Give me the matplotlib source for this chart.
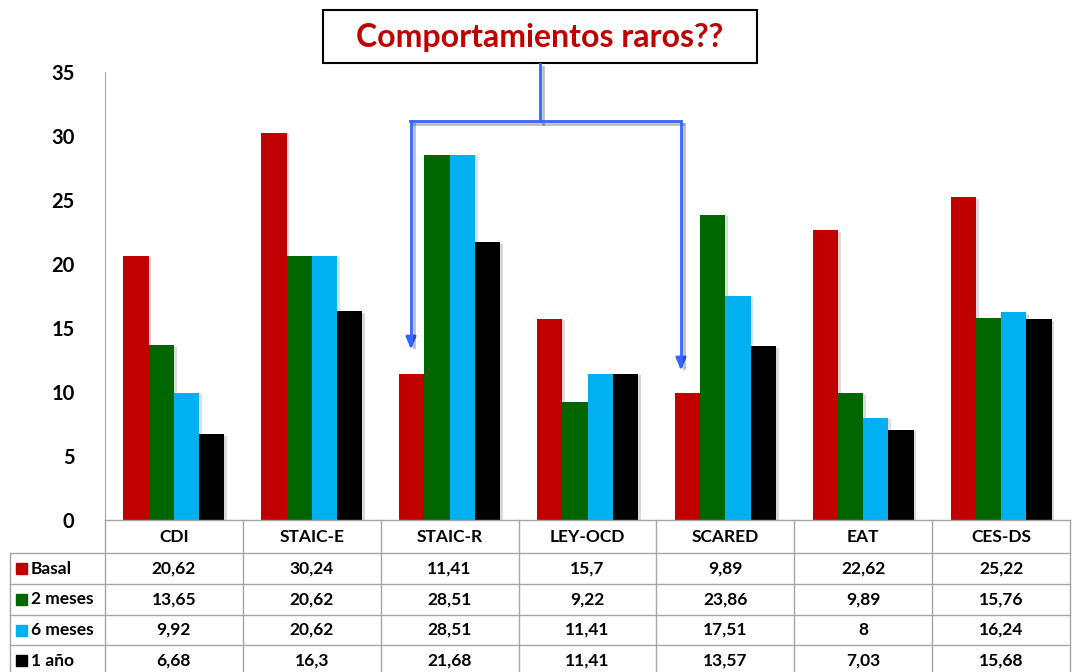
import matplotlib.pyplot as plt
import matplotlib.patheffects as pe
from matplotlib.patches import Rectangle
from matplotlib.transforms import blended_transform_factory
import numpy as np

plt.rcParams['font.family'] = ['Lato', 'DejaVu Sans']

categories = ['CDI', 'STAIC-E', 'STAIC-R', 'LEY-OCD', 'SCARED', 'EAT', 'CES-DS']
series_names = ['Basal', '2 meses', '6 meses', '1 año']
basal = [20.62, 30.24, 11.41, 15.7, 9.89, 22.62, 25.22]
meses2 = [13.65, 20.62, 28.51, 9.22, 23.86, 9.89, 15.76]
meses6 = [9.92, 20.62, 28.51, 11.41, 17.51, 8, 16.24]
anio1 = [6.68, 16.3, 21.68, 11.41, 13.57, 7.03, 15.68]
colors = ['#C00000', '#006600', '#00B0F0', '#000000']

W, H = 1073, 672
fig = plt.figure(figsize=(W / 100, H / 100), dpi=100)
ax = fig.add_axes([105 / W, (H - 520) / H, 965 / W, 448 / H])


def fx(px):
    return px / W


def fy(py):
    return 1 - py / H


series = [basal, meses2, meses6, anio1]
x = np.arange(len(categories))
bw = 0.183
shadow = [pe.SimplePatchShadow(offset=(2, -1), alpha=0.15), pe.Normal()]
for k, (vals, c) in enumerate(zip(series, colors)):
    ax.bar(x + (k - 1.5) * bw, vals, bw, color=c, edgecolor='none',
           path_effects=shadow, zorder=2)

ax.set_xlim(-0.5, len(categories) - 0.5)
ax.set_ylim(0, 35)
ax.set_yticks(range(0, 36, 5))
ax.set_xticks([])
ax.tick_params(axis='y', length=0, pad=22, labelsize=14.5)
for t in ax.get_yticklabels():
    t.set_fontweight('bold')
for s in ['top', 'right', 'bottom']:
    ax.spines[s].set_visible(False)
ax.spines['left'].set_color('#A6A6A6')


# data table under the bars, laid out on the category axis
def fmt(v):
    return ('%g' % v).replace('.', ',')


grid = '#A6A6A6'
row_edges = [520, 553, 584, 615, 645, 676]
label_left = 10
tr = blended_transform_factory(ax.transData, fig.transFigure)
col_edges = np.arange(len(categories) + 1) - 0.5
fs = 12.5

# horizontal rules
fig.add_artist(plt.Line2D([fx(105), fx(1070)], [fy(520)] * 2, color=grid, lw=1))
for py in row_edges[1:]:
    fig.add_artist(plt.Line2D([fx(label_left), fx(1070)], [fy(py)] * 2, color=grid, lw=1))
# vertical rules
for xe in col_edges:
    fig.add_artist(plt.Line2D([xe, xe], [fy(520), fy(676)], color=grid, lw=1,
                              transform=tr))
fig.add_artist(plt.Line2D([fx(label_left)] * 2, [fy(553), fy(676)], color=grid, lw=1))

for j, name in enumerate(categories):
    ax.text(j, fy(536.5), name, transform=tr, ha='center', va='center',
            fontsize=fs, fontweight='bold')
for i, (name, vals, c) in enumerate(zip(series_names, series, colors)):
    yc = fy((row_edges[i + 1] + row_edges[i + 2]) / 2)
    fig.add_artist(Rectangle((fx(16), yc - 5.5 / H), 11 / W, 11 / H,
                             transform=fig.transFigure, color=c))
    fig.text(fx(31), yc, name, ha='left', va='center', fontsize=fs,
             fontweight='bold')
    for j, v in enumerate(vals):
        ax.text(j, yc, fmt(v), transform=tr, ha='center', va='center',
                fontsize=fs, fontweight='bold')

# title box and connector arrows
fig.add_artist(Rectangle((fx(323), fy(63)), (757 - 323) / W, (63 - 10) / H,
                         transform=fig.transFigure, fc='white', ec='black', lw=1.5))
fig.text(fx(540), fy(38), 'Comportamientos raros??', color='#C00000',
         fontsize=23, fontweight='bold', ha='center', va='center')

line_kw = dict(color='#3366FF', lw=2,
               path_effects=[pe.SimpleLineShadow(offset=(2, -2), alpha=0.25), pe.Normal()])
fig.add_artist(plt.Line2D([fx(540), fx(540)], [fy(64), fy(121)], **line_kw))
fig.add_artist(plt.Line2D([fx(410), fx(680)], [fy(121), fy(121)], **line_kw))
for px, tip in [(411, 352), (681, 373)]:
    fig.add_artist(plt.Line2D([fx(px), fx(px)], [fy(121), fy(tip - 8)], **line_kw))
    ax.annotate('', xy=(fx(px), fy(tip)), xytext=(fx(px), fy(tip - 12)),
                xycoords='figure fraction', textcoords='figure fraction',
                arrowprops=dict(arrowstyle='-|>,head_width=0.3,head_length=0.7',
                                color='#3366FF', lw=2))

fig.savefig('out.png', dpi=100)
